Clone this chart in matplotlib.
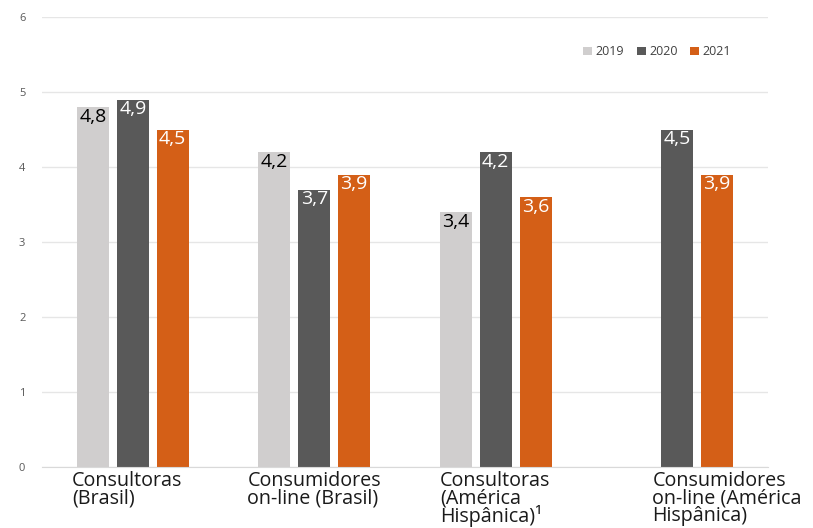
import matplotlib.pyplot as plt
import matplotlib.transforms as mtransforms
import numpy as np

categories = ['Consultoras\n(Brasil)', 'Consumidores\non-line (Brasil)',
              'Consultoras\n(América\nHispânica)¹', 'Consumidores\non-line (América\nHispânica)']
years = ['2019', '2020', '2021']
v2019 = [4.8, 4.2, 3.4, None]
v2020 = [4.9, 3.7, 4.2, 4.5]
v2021 = [4.5, 3.9, 3.6, 3.9]

colors = ['#d0cece', '#595959', '#d45f17']
label_colors = ['black', 'white', 'white']
label_shift = [-61, -67, -56, -25]  # px, left edge of category label vs category centre

plt.rcParams['font.family'] = ['Open Sans', 'DejaVu Sans']

fig = plt.figure(figsize=(8.13, 5.28), dpi=100)
ax = fig.add_axes([42 / 813, 1 - 467 / 528, 726 / 813, 450 / 528])

x = np.arange(len(categories))
width = 0.176
step = 0.22
for i, (vals, year) in enumerate(zip([v2019, v2020, v2021], years)):
    xs = [xi + (i - 1) * step for xi, v in zip(x, vals) if v is not None]
    hs = [v for v in vals if v is not None]
    ax.bar(xs, hs, width, color=colors[i], label=year, zorder=2)
    for xx, h in zip(xs, hs):
        ax.text(xx, h - 0.01, f'{h:.1f}'.replace('.', ','), ha='center', va='top',
                fontsize=14, color=label_colors[i], zorder=3)

ax.set_xlim(-0.5, 3.5)
ax.set_ylim(0, 6)
ax.set_yticks(range(0, 7))
ax.grid(axis='y', color='#e6e6e6', linewidth=1, zorder=0)
ax.set_axisbelow(True)
for s in ['top', 'right', 'left']:
    ax.spines[s].set_visible(False)
ax.spines['bottom'].set_color('#d9d9d9')
ax.tick_params(axis='y', length=0, labelsize=8, labelcolor='#595959', pad=12)
ax.tick_params(axis='x', length=0, pad=3)

ax.set_xticks(x)
ax.set_xticklabels(categories, fontsize=14.2, color='#1a1a1a', linespacing=0.82)
for lab, dx in zip(ax.get_xticklabels(), label_shift):
    lab.set_ha('left')
    lab.set_multialignment('left')
    lab.set_transform(lab.get_transform() +
                      mtransforms.ScaledTranslation(dx / 100, 0, fig.dpi_scale_trans))

ax.legend(loc='upper right', bbox_to_anchor=(0.965, 0.962), ncol=3, frameon=False,
          fontsize=9, labelcolor='#404040', handlelength=0.7, handleheight=0.7,
          handletextpad=0.3, columnspacing=1.0)

fig.savefig('out.png', dpi=100)
